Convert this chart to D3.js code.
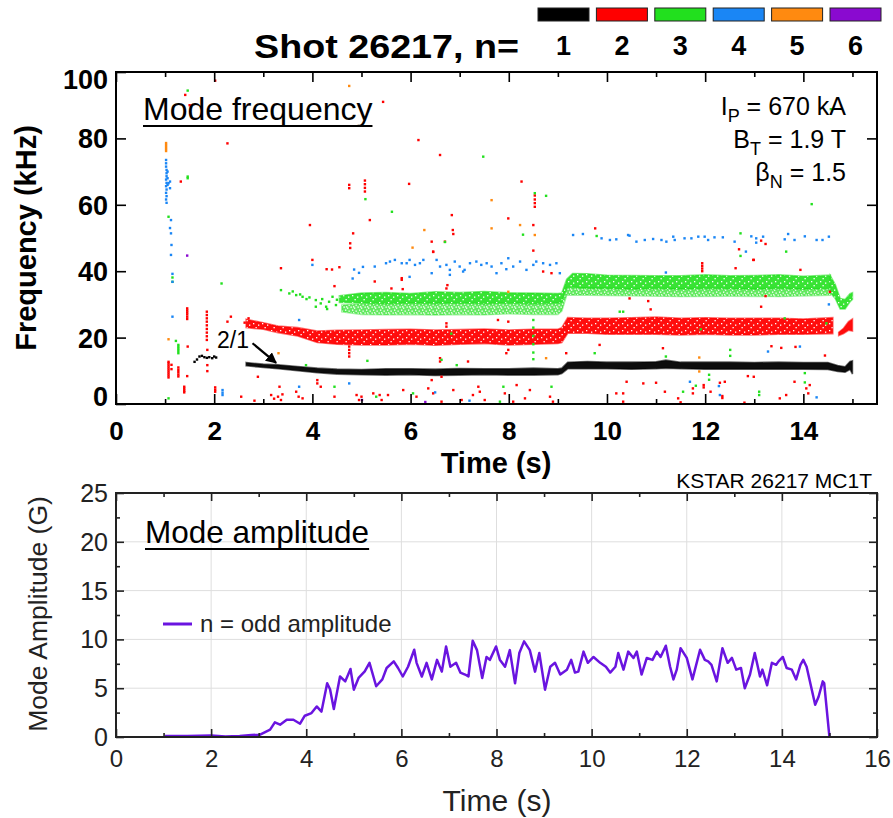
<!DOCTYPE html>
<html>
<head>
<meta charset="utf-8">
<script src="https://cdn.jsdelivr.net/npm/d3@7"></script>
<style>
  body { margin: 0; background: #fff; }
  svg { display: block; }
</style>
</head>
<body>
<svg id="chart" width="893" height="818"></svg>
<script>
// ---- legend: toroidal mode number n and its colour
var modeNumbers = [1, 2, 3, 4, 5, 6];
var modeColors = ['#000000', '#ff0000', '#22e01e', '#1a86f5', '#ff8a10', '#8a0ad0'];

// ---- axis ticks
var xTopTicks = [0, 2, 4, 6, 8, 10, 12, 14];
var xTopMinor = [1, 3, 5, 7, 9, 11, 13, 15];
var yTopTicks = [0, 20, 40, 60, 80, 100];
var xBotTicks = [0, 2, 4, 6, 8, 10, 12, 14, 16];
var xBotMinor = [1, 3, 5, 7, 9, 11, 13, 15];
var yBotTicks = [0, 5, 10, 15, 20, 25];
var yBotMinor = [2.5, 7.5, 12.5, 17.5, 22.5];

// ---- dense mode bands, [time s, low kHz, high kHz]
var bandN1 = [[2.65, 11.5, 12.5], [3.0, 11.0, 12.0], [3.3, 10.6, 11.8], [3.7, 10.0, 11.3], [4.1, 9.4, 10.8],
  [4.5, 9.0, 10.5], [5.0, 8.8, 10.4], [5.5, 8.7, 10.6], [6.0, 8.8, 10.6], [6.5, 8.6, 10.5], [7.0, 8.7, 10.7],
  [7.5, 8.8, 10.6], [8.0, 8.7, 10.6], [8.5, 8.7, 10.8], [9.0, 8.8, 10.6], [9.08, 9.2, 10.8], [9.2, 10.6, 12.6],
  [9.6, 10.6, 12.8], [10.0, 10.6, 12.6], [10.5, 10.5, 12.6], [11.0, 10.6, 12.7], [11.2, 10.8, 13.2],
  [11.5, 10.6, 12.6], [12.0, 10.5, 12.6], [12.5, 10.5, 12.6], [13.0, 10.5, 12.5], [13.5, 10.5, 12.6],
  [14.0, 10.5, 12.5], [14.5, 10.4, 12.5], [14.7, 9.8, 11.6], [14.85, 9.6, 11.2], [14.95, 10.4, 12.8], [15.0, 9.0, 13.0]];
var bandN2 = [[2.65, 23.0, 25.5], [3.0, 22.5, 24.5], [3.3, 21.5, 23.5], [3.7, 20.5, 23.0], [4.1, 18.5, 22.0],
  [4.5, 18.0, 22.2], [5.0, 17.8, 22.3], [5.5, 17.8, 22.4], [6.0, 18.0, 22.5], [6.5, 17.7, 22.3], [7.0, 18.0, 22.4],
  [7.5, 18.2, 22.6], [8.0, 17.8, 22.3], [8.5, 18.0, 22.5], [9.0, 18.2, 22.5], [9.08, 18.5, 23.0], [9.2, 21.3, 26.0],
  [9.6, 21.3, 25.8], [10.0, 21.0, 25.8], [10.5, 21.0, 26.0], [11.0, 21.0, 26.2], [11.5, 20.8, 25.8],
  [12.0, 21.0, 26.0], [12.5, 20.8, 25.8], [13.0, 20.8, 25.8], [13.5, 21.0, 25.8], [14.0, 21.0, 25.6], [14.6, 21.2, 26.0]];
var bandN2Tail = [[14.72, 20.6, 21.6], [14.82, 21.2, 22.8], [14.92, 22.2, 24.8], [15.0, 22.0, 25.6]];
var bandN3Upper = [[4.55, 30.6, 32.6], [5.0, 30.4, 33.4], [5.5, 30.2, 33.6], [6.0, 30.4, 33.3], [6.5, 30.3, 33.8],
  [7.0, 30.5, 33.6], [7.5, 30.2, 33.9], [8.0, 30.5, 33.5], [8.5, 30.1, 33.4], [9.0, 30.4, 33.3], [9.08, 30.8, 33.4],
  [9.18, 35.0, 37.6], [9.3, 35.2, 39.3], [9.6, 34.8, 39.2], [10.0, 34.8, 38.8], [10.5, 34.6, 38.7], [11.0, 34.8, 38.6],
  [11.5, 34.6, 38.6], [12.0, 34.8, 38.9], [12.5, 34.7, 38.6], [13.0, 34.6, 38.7], [13.5, 34.8, 38.9],
  [14.0, 34.6, 38.5], [14.55, 34.8, 38.8]];
var bandN3Lower = [[4.6, 27.8, 29.8], [5.0, 27.0, 30.2], [5.5, 26.9, 30.2], [6.0, 27.0, 30.3], [6.5, 26.8, 30.2],
  [7.0, 27.0, 30.4], [7.5, 26.9, 30.1], [8.0, 27.2, 30.4], [8.5, 27.0, 30.0], [9.0, 27.0, 30.3], [9.08, 28.0, 30.8],
  [9.18, 32.8, 35.0], [9.6, 32.8, 35.0], [10.5, 32.6, 34.8], [11.5, 32.4, 34.8], [12.5, 32.5, 34.8],
  [13.5, 32.4, 34.8], [14.55, 32.8, 34.8]];
var bandN3Tail = [[14.55, 33.5, 38.6], [14.65, 31.8, 36.0], [14.75, 28.6, 31.8], [14.85, 28.6, 31.5],
  [14.95, 30.8, 33.2], [15.0, 31.5, 33.5]];

// ---- isolated spectrogram points, [time s, frequency kHz]
var pointsN1 = [[1.6, 12.7], [1.65, 13.4], [1.7, 14.3], [1.75, 14.5], [1.8, 14.1], [1.85, 13.9], [1.9, 14.1],
  [1.96, 13.8], [2.0, 14.3], [2.04, 14.0]];
var pointsN2 = [[1.07, 12.7], [1.07, 12.2], [1.07, 11.6], [1.07, 11.0], [1.07, 10.4], [1.07, 9.8], [1.07, 9.2],
  [1.07, 8.6], [1.07, 8.0], [1.13, 11.8], [1.13, 10.5], [1.27, 11.0], [1.27, 10.3], [1.27, 9.6], [1.27, 8.9],
  [1.27, 8.3], [1.39, 5.2], [1.39, 4.6], [1.39, 4.0], [1.39, 3.5], [1.45, 28.8], [1.45, 28.2], [1.45, 27.6],
  [1.45, 27.0], [1.45, 26.3], [1.45, 25.6], [1.46, 17.3], [1.45, 8.4], [1.85, 27.8], [1.85, 26.8], [1.85, 25.8],
  [1.85, 24.8], [1.85, 23.7], [1.85, 22.6], [1.85, 21.5], [1.85, 20.4], [1.85, 19.3], [1.86, 16.3], [1.86, 11.7],
  [1.86, 9.9], [2.02, 5.0], [2.02, 4.3], [2.02, 3.7], [2.02, 97.4], [1.41, 93.1], [1.5, 90.0], [2.27, 78.5],
  [2.27, 24.8], [2.34, 26.3], [1.32, 67.0], [2.55, 2.2], [2.89, 8.2], [2.82, 1.0], [3.16, 2.7], [3.22, 1.6],
  [3.3, 2.2], [3.36, 1.2], [3.39, 2.9], [3.33, 5.2], [3.36, 40.9], [4.0, 43.4], [4.29, 40.6], [4.45, 35.5],
  [4.4, 40.5], [4.55, 41.2], [3.67, 3.7], [3.72, 2.2], [3.8, 1.7], [4.1, 7.2], [4.1, 6.2], [4.17, 5.2], [4.45, 2.2],
  [4.9, 2.7], [4.95, 1.2], [5.0, 2.2], [4.75, 17.3], [4.75, 16.3], [4.75, 15.3], [4.75, 14.3], [3.95, 53.9],
  [4.83, 51.4], [4.77, 48.4], [4.77, 47.0], [4.75, 66.0], [4.75, 65.0], [5.07, 67.3], [5.07, 66.2], [5.07, 65.1],
  [5.07, 64.0], [5.17, 55.4], [5.27, 36.9], [5.44, 91.0], [5.97, 66.3], [6.16, 79.5], [6.6, 75.0], [6.46, 45.8],
  [5.84, 34.6], [5.82, 37.9], [5.82, 37.4], [5.61, 34.8], [6.73, 34.8], [6.75, 35.8], [6.43, 48.9], [6.7, 48.9],
  [6.87, 51.2], [6.46, 45.9], [7.99, 24.8], [7.78, 25.3], [6.73, 24.3], [6.73, 23.3], [6.6, 13.8], [6.6, 12.8],
  [7.17, 12.8], [7.95, 15.3], [7.99, 16.3], [8.5, 53.9], [8.5, 46.2], [8.7, 39.9], [8.87, 39.4], [8.53, 62.8],
  [8.53, 61.6], [8.53, 60.5], [8.53, 59.4], [8.26, 67.0], [6.84, 56.9], [6.86, 52.4], [7.99, 55.9], [9.76, 52.9],
  [12.98, 43.4], [5.24, 3.2], [5.37, 2.7], [5.41, 1.2], [5.54, 2.7], [5.85, 4.2], [6.12, 2.2], [6.36, 4.7],
  [6.46, 3.2], [6.63, 0.7], [6.87, 4.2], [7.04, 1.2], [7.27, 2.7], [7.41, 3.7], [7.51, 1.2], [7.92, 3.2],
  [8.09, 0.7], [8.33, 1.7], [8.43, 4.2], [8.84, 2.2], [8.9, 0.7], [6.43, 7.2], [6.63, 8.2], [7.38, 5.2],
  [8.16, 5.7], [9.17, 15.3], [9.85, 17.8], [10.19, 3.2], [10.33, 0.7], [11.94, 42.4], [11.94, 41.6],
  [11.94, 40.8], [11.94, 40.0], [12.69, 46.6], [12.62, 40.9], [12.99, 43.4], [13.14, 49.2], [13.23, 48.2],
  [13.94, 40.4], [14.54, 33.8], [13.23, 32.5], [10.46, 31.8], [10.84, 31.0], [10.89, 28.5], [13.14, 29.3],
  [11.14, 16.8], [12.87, 8.4], [12.99, 8.2], [13.35, 17.4], [13.55, 16.9], [13.84, 17.2], [14.44, 14.6],
  [14.1, 3.2], [14.06, 4.7], [10.4, 6.7], [11.0, 6.4], [11.18, 3.7], [11.45, 1.7], [11.75, 4.7], [11.75, 3.2],
  [11.97, 5.7], [11.97, 5.0], [12.11, 3.7], [12.3, 6.4], [12.4, 6.7], [13.65, 2.7], [13.52, 1.7], [13.82, 6.7],
  [14.13, 5.7], [10.74, 6.2], [10.33, 3.2], [12.35, 2.4], [12.35, 1.8], [11.5, 0.5], [12.8, 0.4], [2.62, 24.5],
  [2.7, 25.8]];
var pointsN3 = [[1.46, 94.4], [1.46, 68.5], [1.46, 68.0], [1.07, 56.4], [1.15, 38.1], [1.15, 36.8], [2.15, 36.3],
  [1.07, 1.7], [5.08, 61.7], [5.62, 57.9], [6.7, 48.8], [5.12, 13.0], [1.27, 17.8], [1.27, 17.2], [1.27, 16.6],
  [1.27, 16.0], [1.27, 15.3], [1.22, 19.0], [3.36, 34.3], [3.53, 33.3], [3.67, 32.8], [3.8, 32.3], [3.94, 32.1],
  [4.07, 31.3], [4.17, 30.3], [4.28, 29.3], [4.34, 30.8], [4.48, 29.8], [4.07, 29.3], [4.41, 32.3], [3.6, 33.9],
  [3.75, 33.0], [3.88, 31.6], [4.2, 31.6], [4.3, 28.6], [4.5, 31.4], [8.29, 51.0], [8.5, 25.3], [8.5, 23.0],
  [8.5, 20.5], [8.5, 18.0], [8.5, 15.5], [8.5, 13.5], [8.87, 5.2], [7.89, 5.2], [6.94, 11.7], [6.63, 13.3],
  [6.83, 21.2], [6.05, 3.2], [7.82, 0.7], [5.3, 2.2], [9.75, 15.3], [10.26, 27.8], [9.79, 50.6], [12.72, 51.4],
  [12.72, 44.6], [13.65, 45.9], [11.2, 14.3], [12.51, 16.3], [12.51, 14.5], [12.08, 8.8], [12.08, 7.3],
  [13.1, 3.7], [13.1, 2.7], [14.03, 9.3], [14.03, 6.5], [11.55, 3.7], [11.81, 5.5], [10.33, 27.8], [11.91, 22.5],
  [13.62, 25.8], [14.47, 24.3], [14.17, 60.2], [14.56, 88.8], [7.48, 74.5], [8.53, 63.5], [8.76, 62.7],
  [3.87, 11.7], [4.45, 5.2]];
var pointsN4 = [[1.02, 73.5], [1.02, 72.5], [1.02, 71.5], [1.03, 70.5], [1.03, 69.5], [1.03, 68.6], [1.02, 67.6],
  [1.03, 66.6], [1.02, 65.6], [1.03, 64.6], [1.02, 63.6], [1.03, 62.6], [1.02, 61.6], [1.03, 60.6], [1.05, 70.0],
  [1.05, 68.0], [1.05, 66.0], [1.07, 66.5], [1.1, 65.0], [1.1, 67.0], [1.12, 55.4], [1.1, 53.0], [1.12, 51.4],
  [1.13, 47.9], [1.12, 44.9], [1.15, 39.2], [1.15, 36.8], [1.15, 26.3], [2.17, 4.2], [2.17, 3.4], [2.17, 2.7],
  [3.73, 25.3], [4.0, 41.9], [4.82, 37.8], [4.75, 6.2], [3.73, 5.2], [6.5, 3.5], [7.2, 1.0],
  [5.03, 41.3], [4.85, 40.5], [5.5, 42.4], [4.95, 39.5], [5.27, 41.4], [5.58, 42.9], [5.68, 43.4], [5.82, 42.4],
  [5.92, 42.4], [5.98, 43.4], [6.09, 41.9], [6.19, 42.4], [6.26, 43.4], [6.43, 39.4], [6.53, 43.4], [6.6, 41.4],
  [6.73, 41.9], [6.8, 40.4], [6.9, 42.9], [7.0, 41.4], [7.1, 40.4], [7.21, 42.4], [7.34, 42.9], [7.44, 41.9],
  [7.55, 42.4], [7.65, 41.4], [7.75, 39.4], [7.85, 42.4], [7.99, 43.9], [8.09, 41.4], [8.23, 42.9], [8.36, 40.4],
  [8.5, 41.9], [8.56, 42.9], [8.7, 42.4], [8.84, 41.9], [8.97, 42.4], [9.04, 39.4], [5.98, 38.3], [6.8, 38.9],
  [7.07, 39.9], [7.95, 40.6], [9.31, 50.9], [9.51, 51.2], [9.89, 49.9], [10.06, 49.4], [10.19, 49.6],
  [10.43, 50.9], [10.46, 50.7], [10.6, 48.9], [10.77, 49.4], [10.94, 49.7], [11.11, 49.4], [11.21, 48.9],
  [11.35, 50.4], [11.38, 49.4], [11.58, 49.9], [11.72, 49.9], [11.86, 50.4], [11.99, 50.4], [12.06, 49.4],
  [12.19, 50.2], [12.36, 50.2], [12.6, 48.9], [12.83, 45.9], [12.94, 50.5], [13.04, 49.9], [13.18, 50.4],
  [13.04, 48.6], [13.62, 49.6], [13.69, 51.2], [13.82, 49.4], [14.03, 50.5], [14.27, 49.4], [14.39, 49.4],
  [14.52, 50.4], [13.93, 17.3], [13.28, 15.8], [11.2, 39.6], [14.52, 30.0], [11.69, 6.7], [12.28, 5.4],
  [14.27, 2.0], [12.3, 2.7]];
var pointsN5 = [[1.02, 78.6], [1.02, 78.0], [1.02, 77.4], [1.02, 76.8], [1.02, 76.2], [1.07, 19.5], [4.75, 95.8],
  [6.28, 52.4], [6.04, 47.1], [7.65, 52.9], [7.65, 61.4], [8.23, 53.9], [8.53, 50.9], [7.99, 33.8], [8.76, 13.8],
  [3.31, 15.3], [11.88, 14.0], [11.88, 9.8]];
var pointsN6 = [[1.45, 44.7], [5.01, 1.2], [6.3, 0.6]];

// ---- odd-n mode amplitude (G) vs time (s)
var ampTime = [1.03, 1.5, 2.0, 2.3, 2.6, 2.85, 3.03, 3.24, 3.34, 3.45, 3.59, 3.73, 3.87, 3.97, 4.11, 4.22, 4.32,
  4.44, 4.5, 4.58, 4.71, 4.82, 4.93, 5.0, 5.1, 5.23, 5.33, 5.47, 5.6, 5.69, 5.84, 5.93, 6.03, 6.14, 6.27, 6.32,
  6.43, 6.53, 6.64, 6.75, 6.85, 6.94, 7.03, 7.15, 7.24, 7.34, 7.41, 7.5, 7.59, 7.7, 7.79, 7.86, 7.99, 8.07, 8.18,
  8.28, 8.39, 8.48, 8.58, 8.7, 8.81, 8.9, 9.02, 9.13, 9.23, 9.34, 9.48, 9.57, 9.65, 9.72, 9.83, 9.92, 10.04,
  10.18, 10.3, 10.39, 10.5, 10.56, 10.67, 10.77, 10.88, 10.95, 11.05, 11.16, 11.28, 11.37, 11.45, 11.56, 11.65,
  11.72, 11.79, 11.87, 12.0, 12.12, 12.28, 12.38, 12.45, 12.52, 12.63, 12.75, 12.86, 12.95, 13.04, 13.14, 13.22,
  13.33, 13.43, 13.54, 13.59, 13.69, 13.79, 13.88, 13.93, 14.02, 14.1, 14.21, 14.3, 14.39, 14.45, 14.52, 14.7,
  14.77, 14.86, 14.89, 15.0];
var ampValue = [0.1, 0.1, 0.15, 0.05, 0.1, 0.2, 0.24, 0.75, 1.5, 1.26, 1.77, 1.77, 1.36, 2.18, 2.45, 3.13, 2.6,
  5.5, 4.9, 2.87, 6.2, 5.7, 6.97, 4.85, 6.05, 6.72, 7.6, 5.2, 5.9, 7.07, 7.75, 7.07, 6.2, 7.2, 8.94, 7.6,
  6.2, 7.6, 5.9, 7.9, 6.7, 9.28, 7.2, 7.6, 6.6, 6.4, 6.2, 9.87, 8.9, 6.05, 8.2, 7.9, 9.28, 7.92, 7.2,
  8.9, 5.5, 8.6, 9.8, 8.9, 6.7, 8.6, 4.85, 7.2, 7.6, 6.4, 6.9, 7.9, 6.6, 6.7, 8.75, 7.6, 8.2,
  7.6, 7.2, 6.6, 7.2, 8.6, 6.9, 8.75, 8.1, 8.75, 6.4, 8.1, 7.9, 8.75, 8.2, 9.35, 7.2,
  5.9, 6.9, 9.1, 8.1, 5.9, 8.94, 7.9, 7.75, 7.4, 5.7, 9.1, 7.6, 8.1, 6.9, 7.07, 5.0,
  6.4, 8.6, 6.2, 6.9, 5.3, 7.6, 7.4, 7.75, 8.2, 7.07, 6.9, 5.9, 7.4, 7.9, 7.2, 3.3,
  4.1, 5.7, 5.5, 0];

var FONT = '"Liberation Sans", Arial, Helvetica, sans-serif';
var svg = d3.select('#chart').attr('font-family', FONT);
svg.append('rect').attr('width', 893).attr('height', 818).attr('fill', '#fff');
var defs = svg.append('defs');

var xTop = d3.scaleLinear().domain([0, 15.5]).range([116, 877]);
var yTop = d3.scaleLinear().domain([0, 100]).range([404, 72]);
var xBot = d3.scaleLinear().domain([0, 16]).range([116, 877]);
var yBot = d3.scaleLinear().domain([0, 25]).range([737, 493]);

var styleAxis = function (g, color, size, weight) {
  g.select('.domain').remove();
  g.attr('font-family', FONT);
  g.selectAll('.tick line').attr('stroke', color).attr('stroke-width', 1.6);
  g.selectAll('.tick text').attr('fill', color).attr('font-size', size).attr('font-weight', weight);
};

var addAxis = function (axis, tx, ty, color, size, weight) {
  var g = svg.append('g').attr('transform', 'translate(' + tx + ',' + ty + ')').call(axis);
  styleAxis(g, color, size, weight);
  return g;
};

// white speckle that breaks the bands up like the scattered spectrogram dots
var speckle = function (id, w, h, holes) {
  var p = defs.append('pattern').attr('id', id).attr('patternUnits', 'userSpaceOnUse')
      .attr('width', w).attr('height', h);
  holes.forEach(function (c) {
    p.append('rect').attr('x', c[0]).attr('y', c[1]).attr('width', 1.3).attr('height', 1.3).attr('fill', '#fff');
  });
};
speckle('specA', 9, 7, [[1, 1], [6, 2.5], [3.5, 5]]);
speckle('specB', 7, 6, [[0.5, 0.5], [4, 1.5], [2, 3.5], [5.5, 4.5], [3, 0.2]]);

// ================= top panel: mode frequency =================
var clip = svg.append('clipPath').attr('id', 'clipTop');
clip.append('rect').attr('x', 117).attr('y', 73).attr('width', 759).attr('height', 330);
var plotTop = svg.append('g').attr('clip-path', 'url(#clipTop)');

var band = function (xs, ys) {
  return d3.area().x(function (d) { return xs(d[0]); })
      .y0(function (d) { return ys(d[1]); })
      .y1(function (d) { return ys(d[2]); });
};
var bandTop = band(xTop, yTop);

var drawBand = function (data, color, opacity, holes) {
  plotTop.append('path').datum(data).attr('d', bandTop)
      .attr('fill', color).attr('fill-opacity', opacity)
      .attr('stroke', color).attr('stroke-opacity', opacity * 0.6).attr('stroke-width', 1.6);
  if (holes) {
    plotTop.append('path').datum(data).attr('d', bandTop).attr('fill', 'url(#' + holes + ')');
  }
};

drawBand(bandN3Lower, modeColors[2], 0.7, 'specB');
drawBand(bandN3Upper, modeColors[2], 0.9, 'specA');
drawBand(bandN3Tail, modeColors[2], 0.9, 'specA');
drawBand(bandN2, modeColors[1], 0.95, 'specA');
drawBand(bandN2Tail, modeColors[1], 0.95, null);
drawBand(bandN1, modeColors[0], 0.95, null);

var pointSets = [pointsN1, pointsN2, pointsN3, pointsN4, pointsN5, pointsN6];
pointSets.forEach(function (pts, i) {
  plotTop.append('g').selectAll('rect').data(pts).enter().append('rect')
      .attr('x', function (d) { return xTop(d[0]) - 1.2; })
      .attr('y', function (d) { return yTop(d[1]) - 1.2; })
      .attr('width', 2.4).attr('height', 2.4)
      .attr('fill', modeColors[i]);
});

// ticks (all pointing inward)
addAxis(d3.axisBottom(xTop).tickValues(xTopTicks).tickSize(-10).tickPadding(18).tickFormat(d3.format('d')), 0, 404, '#000', 26, 'bold');
addAxis(d3.axisBottom(xTop).tickValues(xTopMinor).tickSize(-5).tickFormat(''), 0, 404, '#000', 10, 'normal');
addAxis(d3.axisTop(xTop).tickValues(xTopTicks).tickSize(-10).tickFormat(''), 0, 72, '#000', 10, 'normal');
addAxis(d3.axisTop(xTop).tickValues(xTopMinor).tickSize(-5).tickFormat(''), 0, 72, '#000', 10, 'normal');
var yTopAxis = addAxis(d3.axisLeft(yTop).tickValues(yTopTicks).tickSize(-10).tickPadding(8), 116, 0, '#000', 27, 'bold');
yTopAxis.selectAll('.tick text').attr('dy', function (d) { return d === 100 ? 16 : (d === 0 ? 1 : 9.5); });
addAxis(d3.axisRight(yTop).tickValues(yTopTicks.slice(1, -1)).tickSize(-10).tickFormat(''), 877, 0, '#000', 10, 'normal');

svg.append('rect').attr('x', 116).attr('y', 72).attr('width', 761).attr('height', 332)
    .attr('fill', 'none').attr('stroke', '#000').attr('stroke-width', 2);

svg.append('text').attr('x', 496).attr('y', 473).attr('text-anchor', 'middle')
    .attr('font-size', 29).attr('font-weight', 'bold').text('Time (s)');
svg.append('text').attr('transform', 'translate(36,238) rotate(-90)').attr('text-anchor', 'middle')
    .attr('font-size', 29).attr('font-weight', 'bold').text('Frequency (kHz)');

var underlined = function (x, y, size, label) {
  var t = svg.append('text').attr('x', x).attr('y', y).attr('font-size', size).text(label);
  var w = t.node().getComputedTextLength();
  svg.append('line').attr('x1', x).attr('x2', x + w).attr('y1', y + 6).attr('y2', y + 6)
      .attr('stroke', '#000').attr('stroke-width', 2);
};
underlined(143, 120, 32, 'Mode frequency');

var params = [['I', 'P', ' = 670 kA', 115], ['B', 'T', ' = 1.9 T', 148], ['\u03b2', 'N', ' = 1.5', 181]];
params.forEach(function (p) {
  var t = svg.append('text').attr('x', 846).attr('y', p[3]).attr('text-anchor', 'end').attr('font-size', 25);
  t.append('tspan').text(p[0]);
  t.append('tspan').attr('dy', 7).attr('font-size', 18).text(p[1]);
  t.append('tspan').attr('dy', -7).text(p[2]);
});

defs.append('marker').attr('id', 'arrow').attr('viewBox', '0 0 10 10')
    .attr('refX', 9).attr('refY', 5).attr('markerWidth', 5).attr('markerHeight', 5)
    .attr('orient', 'auto')
  .append('path').attr('d', 'M0,0 L10,5 L0,10 z').attr('fill', '#000');
svg.append('text').attr('x', 217).attr('y', 348).attr('font-size', 23).text('2/1');
svg.append('line').attr('x1', xTop(2.78)).attr('y1', yTop(18.3)).attr('x2', xTop(3.26)).attr('y2', yTop(12.4))
    .attr('stroke', '#000').attr('stroke-width', 2.2).attr('marker-end', 'url(#arrow)');

// title + n legend
svg.append('text').attr('x', 254).attr('y', 58).attr('font-size', 34).attr('font-weight', 'bold')
    .attr('textLength', 265).attr('lengthAdjust', 'spacingAndGlyphs').text('Shot 26217, n=');
var legend = svg.append('g').selectAll('g').data(modeNumbers).enter().append('g')
    .attr('transform', function (d, i) { return 'translate(' + (538 + i * 58.4) + ',0)'; });
legend.append('rect').attr('x', 0).attr('y', 8).attr('width', 51).attr('height', 13)
    .attr('fill', function (d, i) { return modeColors[i]; })
    .attr('stroke', '#222').attr('stroke-width', 1);
legend.append('text').attr('x', 25.5).attr('y', 55).attr('text-anchor', 'middle')
    .attr('font-size', 27).attr('font-weight', 'bold').text(function (d) { return d; });

// ================= bottom panel: mode amplitude =================
var grid = svg.append('g');
grid.selectAll('line.vx').data(xBotTicks.slice(1, -1)).enter().append('line')
    .attr('x1', xBot).attr('x2', xBot).attr('y1', 493).attr('y2', 737)
    .attr('stroke', '#dedede').attr('stroke-width', 1);
grid.selectAll('line.hy').data(yBotTicks.slice(1, -1)).enter().append('line')
    .attr('y1', yBot).attr('y2', yBot).attr('x1', 116).attr('x2', 877)
    .attr('stroke', '#dedede').attr('stroke-width', 1);

var ampLine = d3.line()
    .x(function (d, i) { return xBot(ampTime[i]); })
    .y(function (d) { return yBot(d); });
svg.append('path').datum(ampValue).attr('d', ampLine)
    .attr('fill', 'none').attr('stroke', '#6a14e0').attr('stroke-width', 2.5).attr('stroke-linejoin', 'round');

var ink = '#222';
addAxis(d3.axisBottom(xBot).tickValues(xBotTicks).tickSize(-8).tickPadding(13).tickFormat(d3.format('d')), 0, 737, ink, 24, 'normal');
addAxis(d3.axisBottom(xBot).tickValues(xBotMinor).tickSize(-4).tickFormat(''), 0, 737, ink, 10, 'normal');
addAxis(d3.axisTop(xBot).tickValues(xBotTicks).tickSize(-8).tickFormat(''), 0, 493, ink, 10, 'normal');
addAxis(d3.axisTop(xBot).tickValues(xBotMinor).tickSize(-4).tickFormat(''), 0, 493, ink, 10, 'normal');
var yBotAxis = addAxis(d3.axisLeft(yBot).tickValues(yBotTicks).tickSize(-8).tickPadding(8), 116, 0, ink, 25, 'normal');
yBotAxis.selectAll('.tick text').attr('dy', 8.5);
addAxis(d3.axisLeft(yBot).tickValues(yBotMinor).tickSize(-4).tickFormat(''), 116, 0, ink, 10, 'normal');
addAxis(d3.axisRight(yBot).tickValues(yBotTicks).tickSize(-8).tickFormat(''), 877, 0, ink, 10, 'normal');
addAxis(d3.axisRight(yBot).tickValues(yBotMinor).tickSize(-4).tickFormat(''), 877, 0, ink, 10, 'normal');

svg.append('rect').attr('x', 116).attr('y', 493).attr('width', 761).attr('height', 244)
    .attr('fill', 'none').attr('stroke', ink).attr('stroke-width', 2);

svg.append('text').attr('x', 497).attr('y', 811).attr('text-anchor', 'middle')
    .attr('font-size', 30).attr('fill', ink).text('Time (s)');
svg.append('text').attr('transform', 'translate(47,614) rotate(-90)').attr('text-anchor', 'middle')
    .attr('font-size', 26.5).attr('fill', ink).text('Mode Amplitude (G)');
svg.append('text').attr('x', 872).attr('y', 488).attr('text-anchor', 'end')
    .attr('font-size', 21).attr('fill', '#000').text('KSTAR 26217 MC1T');
underlined(145, 543, 31.5, 'Mode amplitude');

svg.append('line').attr('x1', 163).attr('x2', 192).attr('y1', 624).attr('y2', 624)
    .attr('stroke', '#6a14e0').attr('stroke-width', 3);
svg.append('text').attr('x', 200).attr('y', 632).attr('font-size', 24).attr('fill', ink).text('n = odd amplitude');
</script>
</body>
</html>
